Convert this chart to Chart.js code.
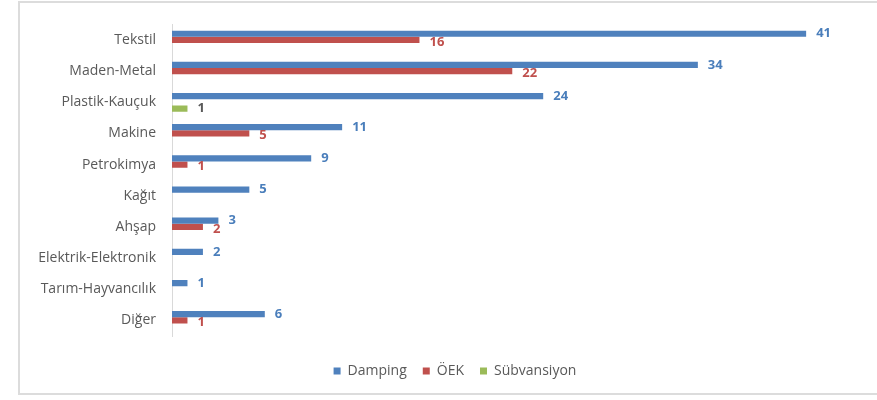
<!DOCTYPE html>
<html>
<head>
<meta charset="utf-8">
<script src="https://cdn.jsdelivr.net/npm/chart.js@4"></script>
<style>
  body { margin: 0; background: #fff; }
  #wrap { position: relative; width: 877px; height: 400px; }
  #frame { position: absolute; left: 18px; top: 1px; width: 870px; height: 394px; border: 2px solid #dcdcdc; box-sizing: border-box; }
</style>
</head>
<body>
<div id="wrap">
  <div id="frame"></div>
  <canvas id="chart" width="877" height="400"></canvas>
</div>
<script>
var categories = ['Tekstil', 'Maden-Metal', 'Plastik-Kauçuk', 'Makine', 'Petrokimya', 'Kağıt', 'Ahşap', 'Elektrik-Elektronik', 'Tarım-Hayvancılık', 'Diğer'];
var damping = [41, 34, 24, 11, 9, 5, 3, 2, 1, 6];
var oek = [16, 22, null, 5, 1, null, 2, null, null, 1];
var subvansiyon = [null, null, 1, null, null, null, null, null, null, null];

var font = '"Open Sans", sans-serif';

var valueLabels = {
    id: 'valueLabels',
    afterDatasetsDraw: function (chart) {
        var ctx = chart.ctx;
        ctx.save();
        ctx.font = 'bold 13px ' + font;
        ctx.textAlign = 'left';
        ctx.textBaseline = 'middle';
        chart.data.datasets.forEach(function (ds, i) {
            var meta = chart.getDatasetMeta(i);
            meta.data.forEach(function (el, j) {
                var v = ds.data[j];
                if (v === null || v === undefined) return;
                ctx.fillStyle = ds.labelColor;
                ctx.fillText(v, el.x + 10, el.y + ds.labelShift);
            });
        });
        ctx.restore();
    }
};

// nudge the legend down and to the right, like the original
var legendShift = {
    id: 'legendShift',
    afterLayout: function (chart) {
        var lg = chart.legend;
        lg.top += 12; lg.bottom += 12;
        lg.left += 12; lg.right += 12;
    }
};

var ctx = document.getElementById('chart').getContext('2d');
var chart = new Chart(ctx, {
    type: 'bar',
    data: {
        labels: categories,
        datasets: [{
            label: 'Damping',
            data: damping,
            backgroundColor: '#4f81bd',
            labelColor: '#4a7ebb',
            labelShift: 0
        }, {
            label: 'ÖEK',
            data: oek,
            backgroundColor: '#c0504d',
            labelColor: '#c0504d',
            labelShift: 2
        }, {
            label: 'Sübvansiyon',
            data: subvansiyon,
            backgroundColor: '#9bbb59',
            labelColor: '#595959',
            labelShift: 0
        }]
    },
    options: {
        indexAxis: 'y',
        responsive: false,
        animation: false,
        datasets: {
            bar: { categoryPercentage: 0.6, barPercentage: 1 }
        },
        layout: { padding: { left: 18, right: 9, top: 19, bottom: 24 } },
        scales: {
            x: { display: false, min: 0, max: 45 },
            y: {
                afterFit: function (s) { s.width = 154; },
                grid: { display: false, drawTicks: false },
                border: { color: '#d9d9d9', width: 1 },
                ticks: { color: '#595959', font: { family: font, size: 14 }, padding: 16 }
            }
        },
        plugins: {
            legend: {
                position: 'bottom',
                labels: {
                    color: '#595959',
                    font: { family: font, size: 14 },
                    boxWidth: 7,
                    boxHeight: 7,
                    padding: 16
                }
            },
            tooltip: { enabled: false }
        }
    },
    plugins: [valueLabels, legendShift]
});
</script>
</body>
</html>
